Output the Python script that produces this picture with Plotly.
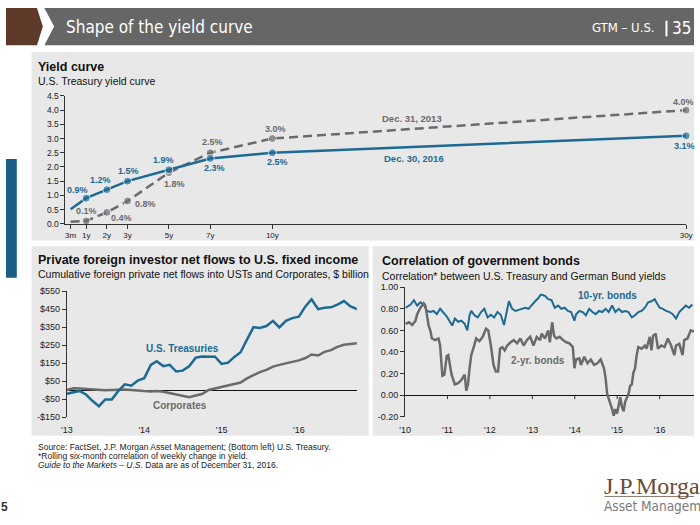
import plotly.graph_objects as go
import pandas as pd

W, H = 700, 525
def px(x): return x / W
def py(y): return 1 - y / H

BLUE = "#1d6a94"
GREY = "#6b6b6b"
PANEL = "#e8e8e8"
FONT = "Liberation Sans, Arial, sans-serif"
COND = "Liberation Sans Narrow, DejaVu Sans Condensed, Roboto, sans-serif"

# ---------------- data ----------------
# Yield curve
tenor_labels = ["3m", "1y", "2y", "3y", "5y", "7y", "10y", "30y"]
tenor_years = [0.25, 1, 2, 3, 5, 7, 10, 30]
yield_2016 = [0.51, 0.9, 1.2, 1.5, 1.9, 2.3, 2.5, 3.1]
yield_2013 = [0.07, 0.1, 0.4, 0.8, 1.8, 2.5, 3.0, 4.0]
yield_ticks = [0, 0.5, 1.0, 1.5, 2.0, 2.5, 3.0, 3.5, 4.0, 4.5]

# Private foreign investor net flows ($ bn, monthly from Jan 2013)
flow_start = "2013-01-01"
treasuries = [-21, -14, -5, -25, -60, -90, -52, -52, -5, 32, 24, 52, 66, 140, 160,
              133, 140, 103, 108, 132, 180, 187, 187, 185, 145, 152, 183, 210, 280,
              350, 345, 356, 385, 348, 385, 400, 408, 465, 505, 450, 458, 460, 475,
              495, 465, 450]
corporates = [0, 10, 8, 5, 5, 0, -1, 0, 2, 3, 0, -4, -6, -8, -6, -10, -18, -25, -32,
              -40, -30, -22, 0, 8, 15, 25, 35, 42, 65, 85, 100, 112, 130, 140, 148,
              155, 165, 178, 198, 192, 212, 222, 240, 252, 255, 260]
flow_tickvals = ["2013-01-01", "2014-01-01", "2015-01-01", "2016-01-01"]
flow_ticktext = ["'13", "'14", "'15", "'16"]
flow_yticks = [-150, -50, 50, 150, 250, 350, 450, 550]
flow_yticktext = ["-$150", "-$50", "$50", "$150", "$250", "$350", "$450", "$550"]

# Correlation of government bonds (decimal years)
corr10_years = [2010.015, 2010.131, 2010.208, 2010.286, 2010.363, 2010.440, 2010.517,
                2010.595, 2010.672, 2010.749, 2010.826, 2010.903, 2010.981, 2011.058,
                2011.112, 2011.174, 2011.251, 2011.328, 2011.405, 2011.467, 2011.521,
                2011.560, 2011.637, 2011.714, 2011.792, 2011.869, 2011.946, 2012.023,
                2012.100, 2012.178, 2012.255, 2012.332, 2012.394, 2012.448, 2012.525,
                2012.602, 2012.680, 2012.757, 2012.834, 2012.911, 2012.988, 2013.066,
                2013.143, 2013.197,
                2013.220, 2013.297, 2013.374, 2013.452, 2013.529, 2013.606, 2013.683,
                2013.761, 2013.838, 2013.915, 2013.992, 2014.031, 2014.108, 2014.185,
                2014.262, 2014.340, 2014.417, 2014.494, 2014.571, 2014.649, 2014.726,
                2014.803, 2014.880, 2014.957, 2015.035, 2015.112, 2015.189, 2015.266,
                2015.344, 2015.421, 2015.498, 2015.575, 2015.653, 2015.730, 2015.807,
                2015.884, 2015.923, 2016.000, 2016.077, 2016.154, 2016.232, 2016.309,
                2016.386, 2016.463, 2016.541, 2016.618, 2016.695, 2016.772]
corr10 = [0.81, 0.84, 0.88, 0.83, 0.86, 0.84, 0.78, 0.77, 0.78, 0.75, 0.80, 0.77, 0.73,
          0.68, 0.645, 0.71, 0.68, 0.69, 0.66, 0.60, 0.74, 0.78, 0.74, 0.72, 0.77, 0.80,
          0.72, 0.745, 0.72, 0.77, 0.745, 0.65, 0.77, 0.87, 0.80, 0.78, 0.79, 0.80, 0.81,
          0.80, 0.84, 0.87, 0.90, 0.93,
          0.93, 0.92, 0.89, 0.88, 0.81, 0.83, 0.80, 0.81, 0.78, 0.77, 0.69, 0.75, 0.78,
          0.77, 0.74, 0.80, 0.77, 0.75, 0.78, 0.77, 0.80, 0.77, 0.83, 0.77, 0.80, 0.77,
          0.78, 0.77, 0.72, 0.74, 0.77, 0.78, 0.81, 0.86, 0.87, 0.89, 0.86, 0.81, 0.80,
          0.78, 0.77, 0.75, 0.71, 0.77, 0.80, 0.83, 0.81, 0.84]
corr2_years = [2010.015, 2010.093, 2010.170, 2010.247, 2010.286, 2010.363, 2010.440,
               2010.479, 2010.517, 2010.556, 2010.595, 2010.633, 2010.710, 2010.788,
               2010.826, 2010.849, 2010.880, 2010.927, 2010.981, 2011.019, 2011.058,
               2011.097, 2011.174, 2011.251, 2011.328, 2011.405, 2011.444, 2011.483,
               2011.521, 2011.560, 2011.622, 2011.676, 2011.753, 2011.830, 2011.907,
               2011.961, 2012.023, 2012.085, 2012.139, 2012.193, 2012.239, 2012.293,
               2012.348, 2012.409, 2012.487, 2012.564, 2012.641, 2012.718, 2012.795,
               2012.873, 2012.950, 2013.027, 2013.104, 2013.182,
               2013.220, 2013.297, 2013.374, 2013.413, 2013.467, 2013.513, 2013.567,
               2013.645, 2013.722, 2013.799, 2013.876, 2013.954, 2013.992, 2014.031,
               2014.108, 2014.147, 2014.224, 2014.301, 2014.378, 2014.456, 2014.533,
               2014.610, 2014.687, 2014.726, 2014.764, 2014.803, 2014.842, 2014.880,
               2014.919, 2014.957, 2014.996, 2015.035, 2015.073, 2015.112, 2015.151,
               2015.189, 2015.228, 2015.266, 2015.305, 2015.344, 2015.382, 2015.421,
               2015.459, 2015.498, 2015.575, 2015.653, 2015.691, 2015.768, 2015.807,
               2015.845, 2015.907, 2015.961, 2016.039, 2016.116, 2016.193, 2016.270,
               2016.347, 2016.386, 2016.463, 2016.541, 2016.579, 2016.656, 2016.734,
               2016.811]
corr2 = [0.66, 0.675, 0.65, 0.69, 0.75, 0.81, 0.85, 0.83, 0.74, 0.645, 0.60, 0.525,
         0.51, 0.525, 0.46, 0.31, 0.18, 0.19, 0.36, 0.37, 0.28, 0.19, 0.10, 0.11, 0.14,
         0.19, 0.04, 0.10, 0.25, 0.37, 0.45, 0.525, 0.50, 0.54, 0.615, 0.60, 0.46, 0.28,
         0.22, 0.22, 0.43, 0.445, 0.415, 0.46, 0.49, 0.51, 0.48, 0.525, 0.46, 0.51, 0.54,
         0.46, 0.54, 0.51,
         0.57, 0.525, 0.60, 0.49, 0.675, 0.55, 0.525, 0.54, 0.51, 0.49, 0.48, 0.445,
         0.25, 0.33, 0.34, 0.28, 0.355, 0.295, 0.33, 0.28, 0.295, 0.33, 0.25, 0.16,
         0.01, -0.035, -0.08, -0.13, -0.19, -0.13, -0.17, -0.08, -0.02, -0.11, -0.15,
         -0.06, -0.02, 0.01, 0.085, 0.10, 0.21, 0.25, 0.37, 0.445, 0.43, 0.46, 0.43,
         0.54, 0.415, 0.55, 0.57, 0.43, 0.46, 0.445, 0.525, 0.46, 0.37, 0.46, 0.475,
         0.37, 0.51, 0.525, 0.60, 0.59]
corr_tickvals = [2010, 2011, 2012, 2013, 2014, 2015, 2016]
corr_ticktext = ["'10", "'11", "'12", "'13", "'14", "'15", "'16"]
corr_yticks = [-0.2, 0.0, 0.2, 0.4, 0.6, 0.8, 1.0]
corr_yticktext = ["-0.20", "0.00", "0.20", "0.40", "0.60", "0.80", "1.00"]

# label offsets (pixels) for the yield-curve point labels
off_2016 = [None, (-9, -8), (-6, -10), (1, -10), (-5, -10), (4, 10), (5, 9), (-2, 10)]
off_2013 = [None, (0, -10), (15, 6), (18, 3), (6, 11), (2, -11), (3, -10), (-3, -8)]

# ---------------- figure ----------------
fig = go.Figure()

msz = [0] + [8] * (len(tenor_years) - 1)
fig.add_trace(go.Scatter(x=tenor_years, y=yield_2013, mode="lines+markers",
                         line=dict(color=GREY, width=2.5, dash="9px,5px"),
                         marker=dict(size=msz, color=GREY),
                         xaxis="x", yaxis="y", cliponaxis=False, hoverinfo="skip"))
fig.add_trace(go.Scatter(x=tenor_years, y=yield_2016, mode="lines+markers",
                         line=dict(color=BLUE, width=2.5),
                         marker=dict(size=msz, color=BLUE),
                         xaxis="x", yaxis="y", cliponaxis=False, hoverinfo="skip"))

flow_dates = pd.date_range(flow_start, periods=len(treasuries), freq="MS")
fig.add_trace(go.Scatter(x=flow_dates, y=corporates, mode="lines",
                         line=dict(color=GREY, width=2.5), xaxis="x2", yaxis="y2",
                         hoverinfo="skip"))
fig.add_trace(go.Scatter(x=flow_dates, y=treasuries, mode="lines",
                         line=dict(color=BLUE, width=2.5), xaxis="x2", yaxis="y2",
                         hoverinfo="skip"))

fig.add_trace(go.Scatter(x=corr10_years, y=corr10, mode="lines",
                         line=dict(color=BLUE, width=2), xaxis="x3", yaxis="y3",
                         hoverinfo="skip"))
fig.add_trace(go.Scatter(x=corr2_years, y=corr2, mode="lines",
                         line=dict(color=GREY, width=2.5), xaxis="x3", yaxis="y3",
                         hoverinfo="skip"))

axis_common = dict(showgrid=False, tickfont=dict(family=FONT, size=9, color="#222"),
                   linecolor="#333", linewidth=1, tickcolor="#333", ticklen=4,
                   ticks="outside", fixedrange=True)

fig.update_layout(
    width=W, height=H, margin=dict(l=0, r=0, t=0, b=0),
    paper_bgcolor="white", plot_bgcolor="rgba(0,0,0,0)", showlegend=False,
    font=dict(family=FONT),
    xaxis=dict(axis_common, domain=[px(60.5), px(692)], range=[0, 30], anchor="y",
               tickvals=tenor_years, ticktext=tenor_labels, showline=True,
               zeroline=False, tickfont=dict(family=FONT, size=8, color="#222")),
    yaxis=dict(axis_common, domain=[py(223), py(92.7)], range=[0, 4.5], anchor="x",
               tickvals=yield_ticks, tickformat=".1f", ticksuffix="%", showline=True,
               zeroline=False, tickfont=dict(family=FONT, size=8.5, color="#222")),
    xaxis2=dict(axis_common, domain=[px(62), px(357)], type="date",
                range=["2013-01-01", "2016-10-01"], anchor="y2",
                tickvals=flow_tickvals, ticktext=flow_ticktext, showline=False,
                zeroline=False, tickcolor=PANEL),
    yaxis2=dict(axis_common, domain=[py(420), py(291.7)], range=[-150, 550],
                anchor="x2", tickvals=flow_yticks, ticktext=flow_yticktext,
                showline=True, zeroline=True, zerolinecolor="#111", zerolinewidth=1),
    xaxis3=dict(axis_common, domain=[px(406), 1], range=[2010, 2016.81], anchor="y3",
                tickvals=corr_tickvals, ticktext=corr_ticktext, showline=False,
                zeroline=False, tickcolor=PANEL),
    yaxis3=dict(axis_common, domain=[py(419.7), py(287.7)], range=[-0.2, 1.0],
                anchor="x3", tickvals=corr_yticks, ticktext=corr_yticktext,
                showline=True, zeroline=True, zerolinecolor="#111", zerolinewidth=1),
)

shapes = []
def rect(x0, y0, x1, y1, color):
    shapes.append(dict(type="rect", xref="paper", yref="paper", x0=px(x0), x1=px(x1),
                       y0=py(y1), y1=py(y0), fillcolor=color, line=dict(width=0),
                       layer="below"))

def poly(pts, color):
    d = "M " + " L ".join(f"{px(a)},{py(b)}" for a, b in pts) + " Z"
    shapes.append(dict(type="path", xref="paper", yref="paper", path=d,
                       fillcolor=color, line=dict(width=0), layer="below"))

# panels
rect(26, 48, 700, 240, PANEL)
rect(26, 246, 369, 439, PANEL)
rect(373, 246, 700, 439, PANEL)
# header
poly([(0, 3), (31.5, 3), (37.5, 22), (31.5, 41), (0, 41)], "#5e3a2b")
poly([(39, 3), (700, 3), (700, 41), (39, 41), (49, 22)], "#666666")
shapes.append(dict(type="line", xref="paper", yref="paper", x0=px(672), x1=px(672),
                   y0=py(16), y1=py(32), line=dict(color="white", width=2)))
# left blue tab
rect(0, 157, 11, 278, "#1a5e86")
# logo underline
shapes.append(dict(type="line", xref="paper", yref="paper", x0=px(609), x1=px(700),
                   y0=py(501), y1=py(501), line=dict(color="#8a7b70", width=1)))
# tick marks on the zero line of the correlation chart
for t in corr_tickvals[1:]:
    shapes.append(dict(type="line", xref="x3", yref="y3", x0=t, x1=t, ysizemode="pixel",
                       yanchor=0, y0=0, y1=-4, line=dict(color="#333", width=1)))
fig.update_layout(shapes=shapes)

ann = []
def text(x, y, s, size, color="#111", anchor="left", fam=FONT):
    ann.append(dict(xref="paper", yref="paper", x=px(x), y=py(y), text=s,
                    showarrow=False, xanchor=anchor, yanchor="middle",
                    font=dict(family=fam, size=size, color=color)))

# header texts
text(59, 22, "Shape of the yield curve", 17, "white", fam=COND)
text(662, 23, "GTM – U.S.", 13, "white", anchor="right", fam=COND)
text(676, 23, "35", 17, "white", fam=COND)

# panel titles
text(31, 63.5, "<b>Yield curve</b>", 12.5)
text(31, 77, "U.S. Treasury yield curve", 10.5)
text(31, 260, "<b>Private foreign investor net flows to U.S. fixed income</b>", 12.5)
text(31, 274.5, "Cumulative foreign private net flows into USTs and Corporates, $ billion", 10.5)
text(381, 261, "<b>Correlation of government bonds</b>", 12.5)
text(381, 276, "Correlation* between U.S. Treasury and German Bund yields", 10.5)

# series labels
text(413, 116, "<b>Dec. 31, 2013</b>", 9.5, GREY, anchor="center")
text(415, 156, "<b>Dec. 30, 2016</b>", 9.5, BLUE, anchor="center")
text(180, 350, "<b>U.S. Treasuries</b>", 10, BLUE, anchor="center")
text(177, 408, "<b>Corporates</b>", 10, GREY, anchor="center")
text(612, 296, "<b>10-yr. bonds</b>", 10, BLUE, anchor="center")
text(541, 362, "<b>2-yr. bonds</b>", 10, GREY, anchor="center")

# point labels of yield curve
for vals, offs, col in ((yield_2016, off_2016, BLUE), (yield_2013, off_2013, GREY)):
    for xv, yv, o in zip(tenor_years, vals, offs):
        if o is None:
            continue
        ann.append(dict(xref="x", yref="y", x=xv, y=yv, text=f"<b>{yv:.1f}%</b>",
                        showarrow=False, xshift=o[0], yshift=-o[1],
                        font=dict(family=FONT, size=9, color=col)))

# footnotes
text(31, 451, "Source: FactSet, J.P. Morgan Asset Management; (Bottom left) U.S. Treasury.", 8.5, "#222")
text(31, 460, "*Rolling six-month correlation of weekly change in yield.", 8.5, "#222")
text(31, 469, "<i>Guide to the Markets – U.S.</i> Data are as of December 31, 2016.", 8.5, "#222")

# logo and page number
text(606, 490, "J.P.Morgan", 24, "#6e4a33", fam="Liberation Serif, serif")
text(606, 511, "Asset Management", 13.5, "#7a7a7a", fam=COND)
text(-7, 512, "<b>5</b>", 12, "#333")

fig.update_layout(annotations=ann)
fig.write_html("out.html", config={"displayModeBar": False, "staticPlot": True},
               post_script="document.body.style.margin='0';document.body.style.padding='0';")
